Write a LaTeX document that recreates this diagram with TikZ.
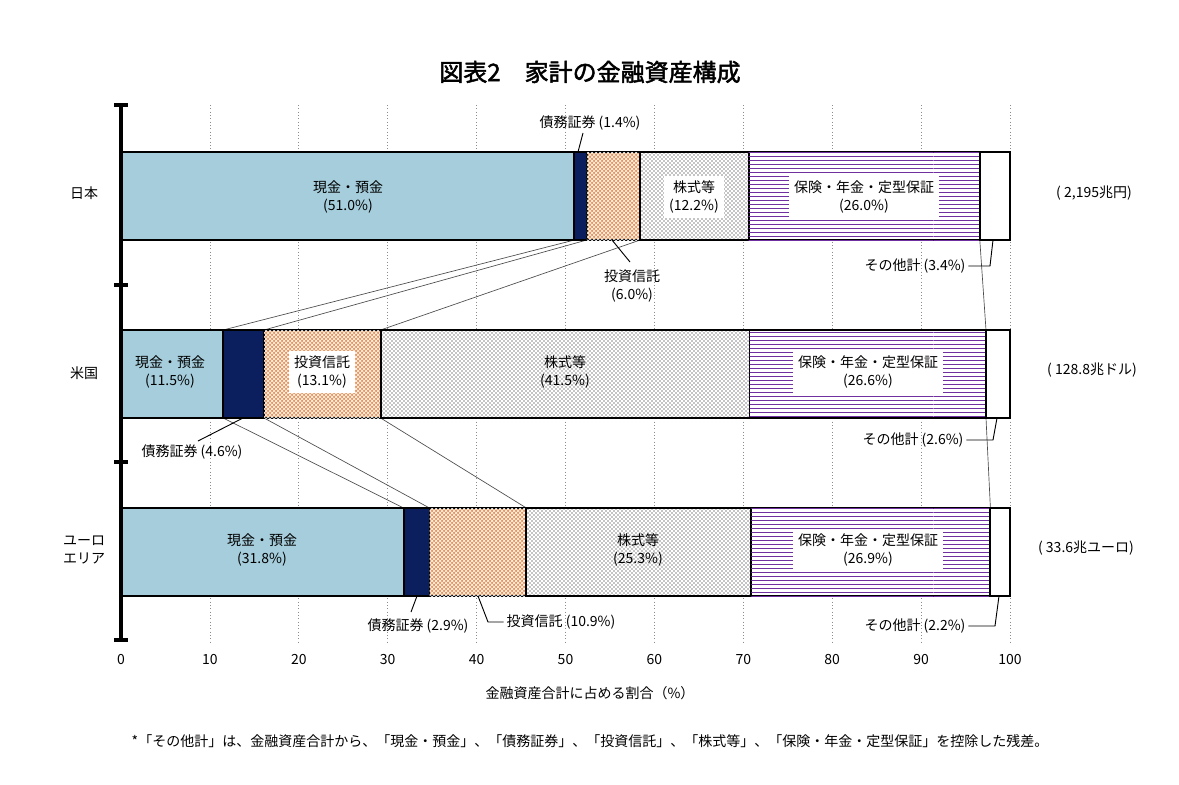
\documentclass[tikz,border=0pt]{standalone}
\usepackage{fontspec}
\setmainfont{Noto Sans CJK JP}
\newfontfamily\titlefont[FakeBold=2]{Noto Sans CJK JP}
\usetikzlibrary{patterns}
\definecolor{cashc}{HTML}{A5CDDB}
\definecolor{bondc}{HTML}{0B1F5E}
\definecolor{trustc}{HTML}{E9955A}
\definecolor{insc}{HTML}{7030A0}
\tikzset{
 seg/.style={draw=black,line width=1.4pt},
 cash/.style={seg,fill=cashc},
 bond/.style={seg,fill=bondc},
 trust/.style={seg,fill=trustc,postaction={pattern=crosshatch,pattern color=white}},
 stock/.style={seg,fill=white,postaction={pattern=crosshatch dots,pattern color=black}},
 ins/.style={seg,fill=white,postaction={pattern=horizontal lines,pattern color=insc}},
 rest/.style={seg,fill=white},
 lab/.style={font=\fontsize{10.5}{13}\selectfont,align=center,inner sep=2pt},
 wlab/.style={lab,fill=white,inner sep=4pt},
 lead/.style={draw=black,line width=0.7pt},
 conn/.style={draw=black!70,line width=0.5pt},
 grid/.style={draw=black!45,line width=0.5pt,dotted},
}
\begin{document}
\begin{tikzpicture}[x=0.75pt,y=-0.75pt]
\useasboundingbox (0,0) rectangle (1179,785);
% grid
\foreach \v in {10,20,...,100}{\draw[grid] ({121+8.89*\v},105) -- ({121+8.89*\v},642);}
% connectors
\draw[conn] (574.4,240) -- (223.2,330);
\draw[conn] (586.8,240) -- (264.1,330);
\draw[conn] (640.2,240) -- (380.6,330);
\draw[conn] (979.8,240) -- (986.0,330);
\draw[conn] (223.2,418) -- (403.7,508);
\draw[conn] (264.1,418) -- (429.5,508);
\draw[conn] (380.6,418) -- (526.4,508);
\draw[conn] (986.0,418) -- (990.4,508);
% Japan
\path[cash] (121,152) rectangle (574.4,240);
\path[bond] (574.4,152) rectangle (586.8,240);
\path[trust] (586.8,152) rectangle (640.2,240);
\path[stock] (640.2,152) rectangle (748.6,240);
\path[ins] (748.6,152) rectangle (979.8,240);
\path[rest] (979.8,152) rectangle (1010,240);
% US
\path[cash] (121,330) rectangle (223.2,418);
\path[bond] (223.2,330) rectangle (264.1,418);
\path[trust] (264.1,330) rectangle (380.6,418);
\path[stock] (380.6,330) rectangle (749.5,418);
\path[ins] (749.5,330) rectangle (986.0,418);
\path[rest] (986.0,330) rectangle (1010,418);
% Euro
\path[cash] (121,508) rectangle (403.7,596);
\path[bond] (403.7,508) rectangle (429.5,596);
\path[trust] (429.5,508) rectangle (526.4,596);
\path[stock] (526.4,508) rectangle (751.3,596);
\path[ins] (751.3,508) rectangle (990.4,596);
\path[rest] (990.4,508) rectangle (1010,596);
% axis
\draw[line width=2.5pt] (121,104) -- (121,642);
\foreach \y in {105,285,462,640}{\draw[line width=2.5pt] (114,\y) -- (128,\y);}
\foreach \v in {0,10,...,100}{\node[lab] (t\v) at ({121+8.89*\v},660) {\v};}
\node[lab] (xt) at (590,693) {金融資産合計に占める割合（\%）};
\node[font=\titlefont\fontsize{18}{20}\selectfont] (title) at (590,72) {図表2\hspace{1em}家計の金融資産構成};
\node[lab] (foot) at (590,741) {*「その他計」は、金融資産合計から、「現金・預金」、「債務証券」、「投資信託」、「株式等」、「保険・年金・定型保証」を控除した残差。};
% countries
\node[lab] (jp) at (84,193) {日本};
\node[lab] (us) at (84,373) {米国};
\node[lab] (eu) at (84,550) {ユーロ\\エリア};
% totals
\node[lab] (tj) at (1094,193) {( 2,195兆円)};
\node[lab] (tu) at (1092,370) {( 128.8兆ドル)};
\node[lab] (te) at (1086,548) {( 33.6兆ユーロ)};
% Japan labels
\node[lab] (jc) at (348,197) {現金・預金\\(51.0\%)};
\node[wlab] (js) at (694,197) {株式等\\(12.2\%)};
\node[wlab] (ji) at (864,197) {保険・年金・定型保証\\(26.0\%)};
\node[lab] (jb) at (590,123) {債務証券 (1.4\%)};
\draw[lead] (583,133) -- (578,152);
\node[lab] (jt) at (632,286) {投資信託\\(6.0\%)};
\draw[lead] (630,262) -- (612,240);
\node[lab] (jo) at (915,266) {その他計 (3.4\%)};
\draw[lead] (jo.east) -- (990,266) -- (993,240);
% US labels
\node[lab] (uc) at (170,372) {現金・預金\\(11.5\%)};
\node[wlab] (ut) at (322,372) {投資信託\\(13.1\%)};
\node[lab] (us2) at (565,372) {株式等\\(41.5\%)};
\node[wlab] (ui) at (868,372) {保険・年金・定型保証\\(26.6\%)};
\node[lab] (ub) at (192,452) {債務証券 (4.6\%)};
\draw[lead] (198,441) -- (243,418);
\node[lab] (uo) at (913,440) {その他計 (2.6\%)};
\draw[lead] (uo.east) -- (993,440) -- (997,418);
% Euro labels
\node[lab] (ec) at (262,550) {現金・預金\\(31.8\%)};
\node[lab] (es) at (638,550) {株式等\\(25.3\%)};
\node[wlab] (ei) at (868,550) {保険・年金・定型保証\\(26.9\%)};
\node[lab] (eb) at (418,626) {債務証券 (2.9\%)};
\draw[lead] (411,612) -- (417,596);
\node[lab] (et) at (561,622) {投資信託 (10.9\%)};
\draw[lead] (et.west) -- (488,622) -- (478,596);
\node[lab] (eo) at (915,626) {その他計 (2.2\%)};
\draw[lead] (eo.east) -- (995,626) -- (999,596);
\end{tikzpicture}
\end{document}
